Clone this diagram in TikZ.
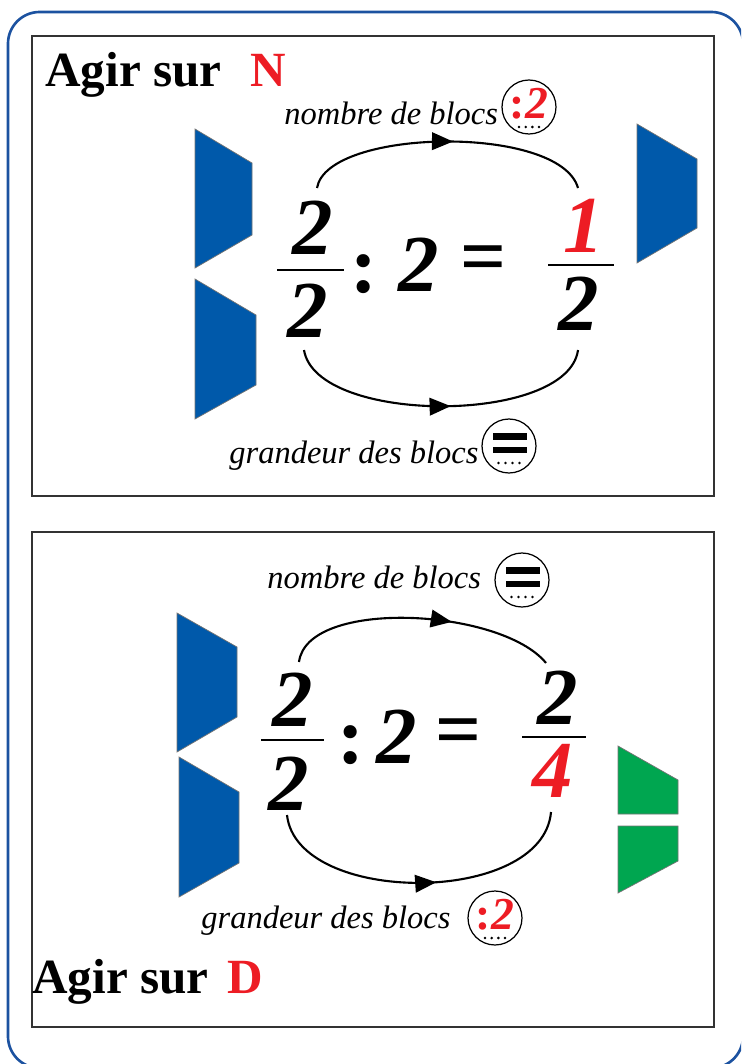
\documentclass[tikz,border=0pt]{standalone}
\usepackage{fontspec}
\setmainfont{Liberation Serif}
\usetikzlibrary{arrows.meta, calc, decorations.markings}
\definecolor{frameblue}{RGB}{28,82,160}
\definecolor{blocblue}{RGB}{0,89,170}
\definecolor{blocgreen}{RGB}{0,166,80}
\definecolor{numred}{RGB}{237,28,36}
\begin{document}
\begin{tikzpicture}[
    x=0.02cm, y=-0.02cm,
    ttl/.style={font=\fontsize{28}{30}\selectfont\bfseries, inner sep=0pt, anchor=base west},
    lbl/.style={font=\fontsize{18.5}{20}\selectfont\itshape, inner sep=0pt, anchor=base west},
    dig/.style={font=\fontsize{46}{48}\selectfont\bfseries\itshape, inner sep=0pt},
    op/.style={font=\fontsize{46}{48}\selectfont\bfseries, inner sep=0pt},
    circ/.style={draw, circle, line width=0.7pt, minimum size=1.08cm, inner sep=0pt},
    insym/.style={font=\fontsize{26}{27}\selectfont\bfseries, text=numred, inner sep=0pt},
    box/.style={draw=black!80, line width=0.6pt},
    blk/.style={fill=blocblue, draw=black!55, line width=0.4pt},
    gblk/.style={fill=blocgreen, draw=black!55, line width=0.4pt},
    bar/.style={line width=1.2pt},
    turn/.style={line width=1.2pt, decoration={markings,
        mark=at position #1 with {\arrow{Triangle[length=12pt,width=10pt]}}},
        postaction={decorate}},
    turn/.default=0.5,
]
\useasboundingbox (0,0) rectangle (741,1064);
\clip (0,0) rectangle (741,1064);
% outer frame and the two panels
\draw[frameblue, line width=1.5pt, rounded corners=18pt] (8,12) rectangle (743,1068);
\draw[box] (32,36) rectangle (714,496);
\draw[box] (32,532) rectangle (714,1027);

% ---------- panel 1 : acting on N ----------
\node[ttl] (titN) at (45,87) {Agir sur};
\node[ttl, text=numred] (letN) at (250,87) {N};

\filldraw[blk] (195,129) -- (252,163) -- (252,235) -- (195,268) -- cycle;
\filldraw[blk] (195,279) -- (256,315) -- (256,385) -- (195,419) -- cycle;
\filldraw[blk] (637,124) -- (697,159) -- (697,228) -- (637,263) -- cycle;

\node[dig] (aNum) at (313,228) {2};
\draw[bar] (277,270) -- (344,270);
\node[dig] (aDen) at (308,311) {2};
\node[op]  (aCol) at (364,274) {:};
\node[dig] (aDiv) at (419,265) {2};
\node[op]  (aEq)  at (484,265) {=};
\draw[bar] (548,265) -- (614,265);
\node[dig, text=numred] (aRNum) at (584,226) {1};
\node[dig] (aRDen) at (579,304) {2};

% arcs
\coordinate (aTopL) at (317,188);
\coordinate (aTopR) at (578,188);
\coordinate (aBotL) at (304,350);
\coordinate (aBotR) at (578,350);
\draw[turn=0.52] (aTopL) .. controls +(10,-60) and +(-18,-64) .. (aTopR);
\draw[turn=0.53] (aBotL) .. controls +(12,75) and +(-10,75) .. (aBotR);

\node[lbl] (aNb) at (284,125) {nombre de blocs};
\node[circ] (aNbC) at (529,107) {};
\node[insym] at ([yshift=2pt]aNbC.center) {:\textit{2}};
\foreach \k in {-1.5,-0.5,0.5,1.5}
    \fill ($(aNbC.center)+(\k*6.7,20)$) circle (0.8pt);

\node[lbl] (aGr) at (229,463) {grandeur des blocs};
\node[circ] (aGrC) at (509,446) {};
\fill ($(aGrC.center)+(-16,-13)$) rectangle ++(34,7);
\fill ($(aGrC.center)+(-16,1)$) rectangle ++(34,6);
\foreach \k in {-1.5,-0.5,0.5,1.5}
    \fill ($(aGrC.center)+(\k*7,17)$) circle (0.8pt);

% ---------- panel 2 : acting on D ----------
\filldraw[blk] (177,613) -- (237,647) -- (237,717) -- (177,752) -- cycle;
\filldraw[blk] (179,757) -- (239,792) -- (239,863) -- (179,897) -- cycle;
\filldraw[gblk] (618,746) -- (678,780) -- (678,814) -- (618,814) -- cycle;
\filldraw[gblk] (618,826) -- (678,826) -- (678,861) -- (618,893) -- cycle;

\node[dig] (bNum) at (293,700) {2};
\draw[bar] (261,740) -- (324,740);
\node[dig] (bDen) at (289,784) {2};
\node[op]  (bCol) at (351,745) {:};
\node[dig] (bDiv) at (397,737) {2};
\node[op]  (bEq)  at (459,738) {=};
\draw[bar] (522,737) -- (586,737);
\node[dig] (bRNum) at (558,698) {2};
\node[dig, text=numred] (bRDen) at (553,771) {4};

\coordinate (bTopL) at (299,662);
\coordinate (bTopR) at (546,663);
\coordinate (bBotL) at (287,815);
\coordinate (bBotR) at (551,812);
\draw[turn=0.62] (bTopL) .. controls +(8,-64) and +(-45,-55) .. (bTopR);
\draw[turn=0.55] (bBotL) .. controls +(10,91) and +(-8,94) .. (bBotR);

\node[lbl] (bNb) at (267,588) {nombre de blocs};
\node[circ] (bNbC) at (522,580) {};
\fill ($(bNbC.center)+(-16,-13)$) rectangle ++(34,7);
\fill ($(bNbC.center)+(-16,1)$) rectangle ++(34,6);
\foreach \k in {-1.5,-0.5,0.5,1.5}
    \fill ($(bNbC.center)+(\k*7,17)$) circle (0.8pt);

\node[lbl] (bGr) at (201,928) {grandeur des blocs};
\node[circ] (bGrC) at (495,918) {};
\node[insym] at ([yshift=2pt]bGrC.center) {:\textit{2}};
\foreach \k in {-1.5,-0.5,0.5,1.5}
    \fill ($(bGrC.center)+(\k*6.7,20)$) circle (0.8pt);

\node[ttl] (titD) at (32,993) {Agir sur};
\node[ttl, text=numred] (letD) at (227,993) {D};
\end{tikzpicture}
\end{document}
